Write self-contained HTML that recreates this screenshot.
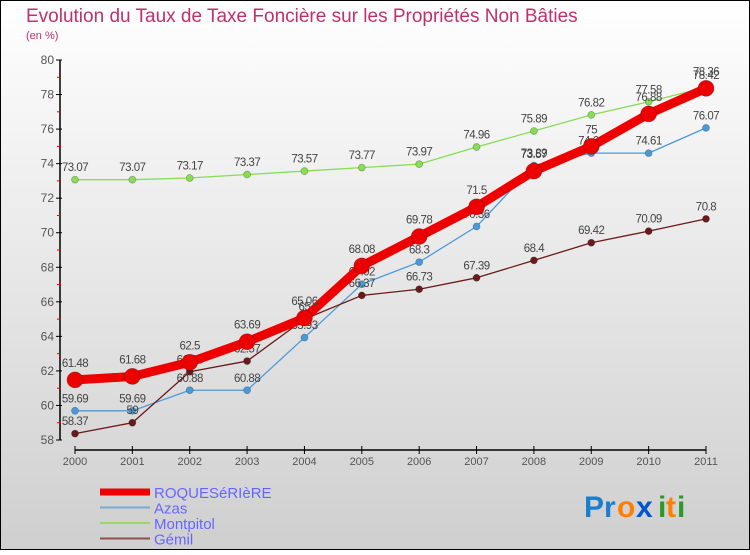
<!DOCTYPE html>
<html><head><meta charset="utf-8"><style>
body{margin:0}
svg text{font-family:"Liberation Sans",sans-serif}
</style></head><body>
<svg id="c" width="750" height="550" xmlns="http://www.w3.org/2000/svg">
<defs><linearGradient id="bg" x1="0" y1="0" x2="0" y2="1"><stop offset="0" stop-color="#ffffff"/><stop offset="1" stop-color="#cfcfcf"/></linearGradient></defs>
<rect x="0.5" y="0.5" width="749" height="549" fill="url(#bg)" stroke="#000"/>
<text x="26" y="22" font-size="19" fill="#c0306a">Evolution du Taux de Taxe Foncière sur les Propriétés Non Bâties</text>
<text x="26" y="39" font-size="11" fill="#c0306a">(en %)</text>
<g id="axes"></g><g id="series"></g><g id="legend"></g>
<g font-size="30" font-weight="bold">
<text x="584" y="517" fill="#1a7fd0">Pr</text><text x="617" y="517" fill="#ff7f00">o</text><text x="636" y="517" fill="#0055cc">x</text><text x="658" y="517" fill="#2a9a2a">i</text><text x="666" y="517" fill="#ff7f00">t</text><text x="677" y="517" fill="#2a9a2a">i</text>
</g>
</svg>
<script>
const years=[2000,2001,2002,2003,2004,2005,2006,2007,2008,2009,2010,2011];
const roq=[61.48,61.68,62.5,63.69,65.06,68.08,69.78,71.5,73.57,75,76.88,78.36];
const azas=[59.69,59.69,60.88,60.88,63.93,67.02,68.3,70.36,73.89,74.61,74.61,76.07];
const montpitol=[73.07,73.07,73.17,73.37,73.57,73.77,73.97,74.96,75.89,76.82,77.58,78.42];
const gemil=[58.37,59,61.95,62.57,65.0,66.37,66.73,67.39,68.4,69.42,70.09,70.8];
const yTicks=[58,60,62,64,66,68,70,72,74,76,78,80];
const NS="http://www.w3.org/2000/svg";
const X=i=>75+i*(706-75)/11;
const Y=v=>60+(80-v)*(440-60)/22;
function mk(t,a,p){const e=document.createElementNS(NS,t);for(const k in a)e.setAttribute(k,a[k]);p.appendChild(e);return e;}
const ax=document.getElementById('axes');
let l=mk('line',{x1:60,y1:60,x2:60,y2:440,stroke:'#000','stroke-width':1.5},ax);


l=mk('line',{x1:75,y1:450,x2:706,y2:450,stroke:'#000','stroke-width':1.5},ax);


yTicks.forEach(v=>{
 mk('line',{x1:56,y1:Y(v),x2:62,y2:Y(v),stroke:'#000'},ax);
 if(v<80)mk('line',{x1:57,y1:Y(v+1),x2:61,y2:Y(v+1),stroke:'#e00'},ax);
 const t=mk('text',{x:54,y:Y(v)+4,'font-size':12,fill:'#555','text-anchor':'end'},ax);t.textContent=v;
 
 
});
years.forEach((yr,i)=>{
 mk('line',{x1:X(i),y1:446,x2:X(i),y2:454,stroke:'#000'},ax);
 const t=mk('text',{x:X(i),y:465,'font-size':11,fill:'#555','text-anchor':'middle'},ax);t.textContent=yr;
 
 
});
const sg=document.getElementById('series');
const S=[
 {d:azas,c:'#4a9ad8',w:1.3,r:3.5,name:'azas'},
 {d:montpitol,c:'#88dd55',w:1.3,r:3.5,name:'montpitol'},
 {d:gemil,c:'#6a1a1a',w:1.3,r:3.5,name:'gemil'},
 {d:roq,c:'#ee0000',w:9,r:8,name:'roqueseriere'}];
S.forEach(s=>{
 const g=mk('g',{},sg);
 
 
 const p=mk('polyline',{points:s.d.map((v,i)=>X(i)+','+Y(v)).join(' '),fill:'none',stroke:s.c,'stroke-width':s.w,'stroke-linejoin':'round'},g);
 
 
 s.d.forEach((v,i)=>{
  const c=mk('circle',{cx:X(i),cy:Y(v),r:s.r,fill:s.c,stroke:'rgba(0,0,0,0.25)','stroke-width':0.8},g);
  
  
  const t=mk('text',{x:X(i),y:Y(v)-(s.r+5),'font-size':11.5,fill:'#444','text-anchor':'middle','letter-spacing':'-0.5'},g);t.textContent=v;
  
  
 });
});
const lg=document.getElementById('legend');
[['ROQUESéRIèRE','#ee0000',7],['Azas','#7aaad0',2],['Montpitol','#9ad86a',2],['Gémil','#8a5050',2]].forEach((e,i)=>{
 const y=492+i*15.5;
 const g=mk('g',{},lg);
 
 
 mk('line',{x1:100,y1:y,x2:150,y2:y,stroke:e[1],'stroke-width':e[2]},g);
 const t=mk('text',{x:154,y:y+6,'font-size':15,fill:'#6666ff'},g);t.textContent=e[0];
});
</script>
</body></html>
